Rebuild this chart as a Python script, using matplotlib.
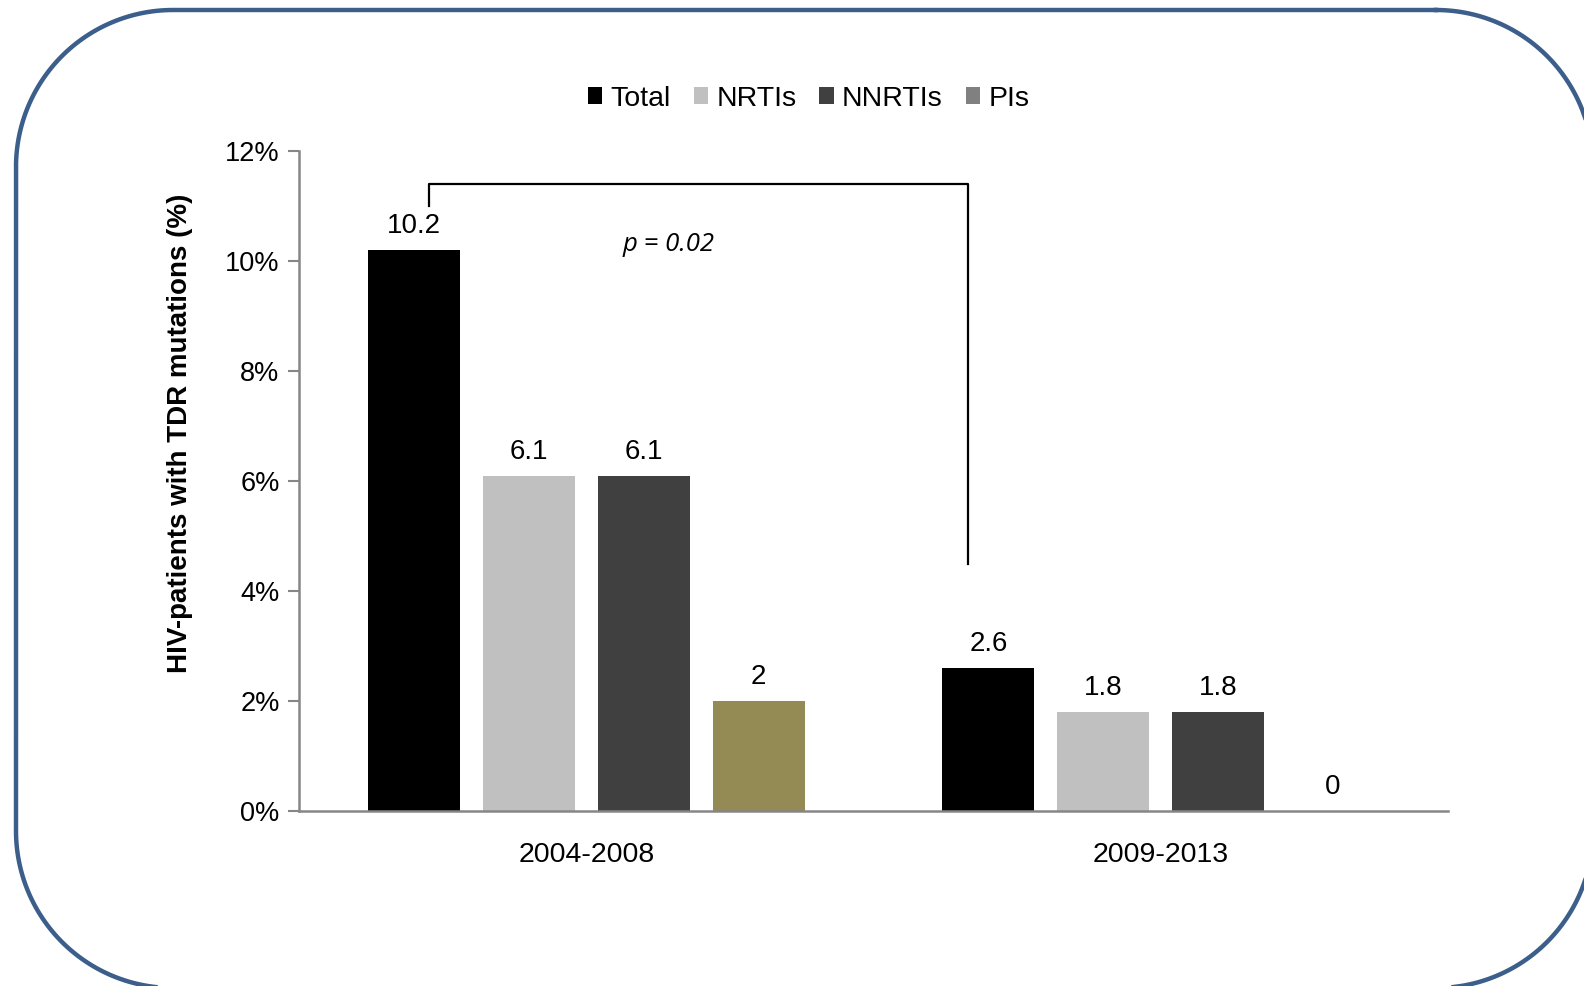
import matplotlib
matplotlib.use('Agg')
import matplotlib.pyplot as plt
from matplotlib.patches import Patch
import numpy as np

periods = ['2004-2008', '2009-2013']
series = ['Total', 'NRTIs', 'NNRTIs', 'PIs']
total = [10.2, 2.6]
nrtis = [6.1, 1.8]
nnrtis = [6.1, 1.8]
pis = [2, 0]
labels = ['10.2', '6.1', '6.1', '2', '2.6', '1.8', '1.8', '0']

colors = ['#000000', '#C0C0C0', '#404040', '#808080']
pis_bar_colors = ['#948A54', '#808080']

plt.rcParams['font.family'] = ['Liberation Sans', 'DejaVu Sans']

fig = plt.figure(figsize=(15.84, 9.86), dpi=100)


def rounded_rect(left, top, right, bottom, r, n=60):
    # outline of a rounded rectangle with circular corners (pixel units, y down)
    xs, ys = [], []
    corners = [(right - r, top + r, -90, 0), (right - r, bottom - r, 0, 90),
               (left + r, bottom - r, 90, 180), (left + r, top + r, 180, 270)]
    for cx, cy, a0, a1 in corners:
        t = np.radians(np.linspace(a0, a1, n))
        xs.extend(cx + r * np.cos(t))
        ys.extend(cy + r * np.sin(t))
    xs.append(xs[0])
    ys.append(ys[0])
    return xs, ys


bg = fig.add_axes([0, 0, 1, 1])
bg.set_xlim(0, 1584)
bg.set_ylim(986, 0)
bg.axis('off')
fx, fy = rounded_rect(16, 10, 1593, 988, 157)
bg.plot(fx, fy, color='#3B5E8B', lw=3.2, solid_joinstyle='round')

ax = fig.add_axes([0.1888, 0.1775, 0.7253, 0.6689])
ax.patch.set_alpha(0)

x = np.arange(len(periods))
width = 0.16
offsets = [-0.3, -0.1, 0.1, 0.3]
data = [total, nrtis, nnrtis, pis]

rects = []
for i, vals in enumerate(data):
    c = pis_bar_colors if series[i] == 'PIs' else colors[i]
    r = ax.bar(x + offsets[i], vals, width, color=c, label=series[i])
    rects.append(r)

# value labels, grouped by period
k = 0
for g in range(len(periods)):
    for i in range(len(series)):
        rect = rects[i][g]
        ax.annotate(labels[k], (rect.get_x() + rect.get_width() / 2., rect.get_height()),
                    xytext=(0, 8), textcoords='offset points',
                    ha='center', va='bottom', fontsize=20)
        k += 1

# significance bracket
ax.plot([-0.274, -0.274, 0.664, 0.664], [11.0, 11.4, 11.4, 4.5], color='black', lw=1.6,
        clip_on=False)
ax.text(0.143, 10.3, 'p = 0.02', family='Open Sans', style='italic', fontsize=18.5,
        ha='center', va='center')

ax.set_xlim(-0.5, 1.5)
ax.set_ylim(0, 12)
ax.set_yticks(range(0, 13, 2))
ax.set_yticklabels(['%d%%' % v for v in range(0, 13, 2)], fontsize=19.5)
ax.set_xticks(x)
ax.set_xticklabels(periods, fontsize=20.5)
ax.tick_params(axis='x', length=0, pad=22)
ax.tick_params(axis='y', length=8, width=1.5, color='#868686', pad=6)

for s in ['top', 'right']:
    ax.spines[s].set_visible(False)
for s in ['left', 'bottom']:
    ax.spines[s].set_color('#868686')
    ax.spines[s].set_linewidth(1.8)

ax.set_ylabel('HIV-patients with TDR mutations (%)', fontsize=20, fontweight='bold')
ax.yaxis.set_label_coords(-0.092, 0.573)

handles = [Patch(facecolor=c) for c in colors]
fig.legend(handles, series, loc='center', bbox_to_anchor=(0.5105, 0.9), ncol=4, frameon=False,
           fontsize=20.5, handlelength=0.5, handleheight=0.5, handletextpad=0.3,
           columnspacing=0.8)

plt.savefig('out.png', dpi=100)
